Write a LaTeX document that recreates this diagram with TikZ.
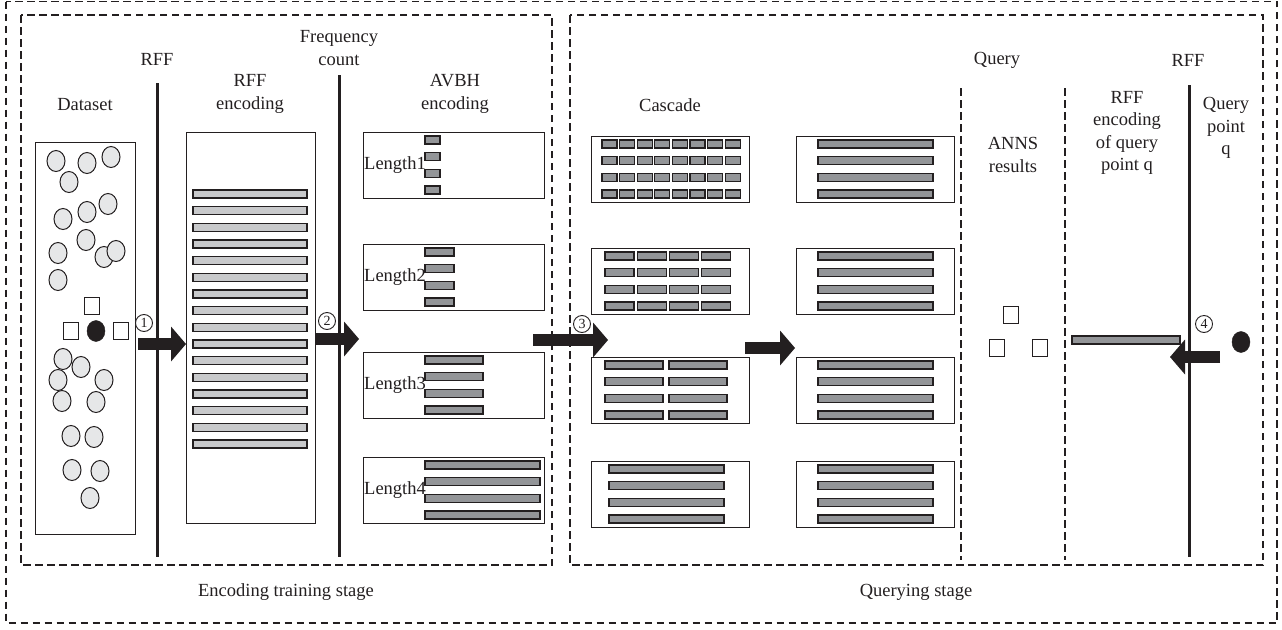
\documentclass[tikz,border=0pt]{standalone}
\usepackage{fontspec}
\setmainfont{Liberation Serif}
\usetikzlibrary{arrows.meta,shapes.geometric}

\definecolor{ink}{HTML}{231F20}
\definecolor{barlight}{HTML}{C8C9CB}
\definecolor{bardark}{HTML}{939598}
\definecolor{dotfill}{HTML}{E6E7E8}

\tikzset{
  stage/.style={draw=ink, line width=1.1pt, dash pattern=on 7.5pt off 4.5pt},
  divider/.style={draw=ink, line width=1.1pt, dash pattern=on 7.5pt off 4.5pt},
  panel/.style={draw=ink, line width=1.4pt, fill=white, inner sep=0pt, anchor=north west},
  lbar/.style={draw=ink, line width=1.3pt, fill=barlight},
  dbar/.style={draw=ink, line width=1.3pt, fill=bardark},
  rffline/.style={draw=ink, line width=3pt},
  blockarrow/.style={draw=ink, line width=12pt,
    -{Triangle[length=15pt,width=35pt,line width=0pt]}},
  lbl/.style={font=\fontsize{18.5}{22.5}\selectfont, align=center, inner sep=0pt, text=ink},
  num/.style={circle, draw=ink, line width=0.9pt, inner sep=0pt, minimum size=17pt,
    font=\fontsize{14}{14}\selectfont, text=ink},
  dot/.style={ellipse, draw=ink, fill=dotfill, line width=1pt, inner sep=0pt,
    minimum width=18pt, minimum height=21pt},
  qdot/.style={ellipse, draw=ink, fill=ink, inner sep=0pt,
    minimum width=18pt, minimum height=21pt},
  sq/.style={rectangle, draw=ink, fill=white, line width=1.2pt, inner sep=0pt,
    minimum width=15pt, minimum height=17pt},
}

% a box whose top-left corner is given: style, x, y, width, height, name
\newcommand\panelat[6]{\node[#1, minimum width=#4pt, minimum height=#5pt] (#6) at (#2,#3) {};}

\begin{document}
\begin{tikzpicture}[x=1pt,y=-1pt]
\useasboundingbox (0,0) rectangle (1282,629);

% stage frames
\draw[stage] (6,1.5) rectangle (1277,623);
\draw[stage] (21,15) rectangle (552,565);
\draw[stage] (570,15) rectangle (1263,565);

% headings
\node[lbl] (hrff1) at (157,59) {RFF};
\node[lbl] (hfreq) at (339,48) {Frequency\\count};
\node[lbl] (hdata) at (85,105) {Dataset};
\node[lbl] (hrffenc) at (250,94) {RFF\\encoding};
\node[lbl] (havbh) at (455,94) {AVBH\\encoding};
\node[lbl] (hcasc) at (670,105) {Cascade};
\node[lbl] (hquery) at (997,60) {Query};
\node[lbl] (hrff2) at (1188,60) {RFF};
\node[lbl] (hanns) at (1013,155) {ANNS\\results};
\node[lbl] (hqenc) at (1127,133) {RFF\\encoding\\of query\\point q};
\node[lbl] (hqpt) at (1226,128) {Query\\point\\q};
\node[lbl] (hstage1) at (286,592) {Encoding training stage};
\node[lbl] (hstage2) at (916,592) {Querying stage};

% dataset
\panelat{panel}{35}{142}{100}{392}{ds}
\foreach \x/\y [count=\i] in {56/161,87/163,111/157,69/182,63/219,87/212,108/204,
    58/253,86/240,104/257,116/251,58/280,63/359,81/367,58/380,104/380,62/401,
    96/402,71/436,94/437,72/470,100/471,90/498}
  {\node[dot] (p\i) at (\x,\y) {};}
\node[sq] (s1) at (92,306) {};
\node[sq] (s2) at (71,331) {};
\node[sq] (s3) at (121,331) {};
\node[qdot] (q0) at (96,331) {};

% RFF encoding of the dataset
\panelat{panel}{186}{132}{129}{391}{rffbox}
\foreach \i in {0,...,15}
  {\draw[lbar] (193,{190+16.67*\i}) rectangle (307,{198+16.67*\i});}

% AVBH encoding: four code lengths
\foreach \k/\t/\w in {1/132/15,2/244/29,3/352/58,4/457/115} {
  \panelat{panel}{363}{\t}{181}{66}{av\k}
  \node[lbl, anchor=west] (len\k) at (364,\t+33) {Length\k};
  \foreach \o in {8,24.7,41.3,58}
    {\draw[dbar] (425,\t+\o-4) rectangle (425+\w,\t+\o+4);}
}

% cascade, first column
\foreach \k/\t in {1/136,2/248,3/357,4/461}
  {\panelat{panel}{591}{\t}{158}{66}{ca\k}}
\foreach \o in {8,24.7,41.3,58} {
  \foreach \j in {0,...,7}
    {\draw[dbar] ({602+17.6*\j},136+\o-4) rectangle ({617+17.6*\j},136+\o+4);}
  \foreach \j in {0,...,3}
    {\draw[dbar] ({605+32.2*\j},248+\o-4) rectangle ({634+32.2*\j},248+\o+4);}
  \foreach \j in {0,1}
    {\draw[dbar] ({605+64*\j},357+\o-4) rectangle ({663+64*\j},357+\o+4);}
  \draw[dbar] (609,461+\o-4) rectangle (724,461+\o+4);
}

% cascade, second column
\foreach \k/\t in {1/136,2/248,3/357,4/461} {
  \panelat{panel}{796}{\t}{158}{66}{cb\k}
  \foreach \o in {8,24.7,41.3,58}
    {\draw[dbar] (818,\t+\o-4) rectangle (933,\t+\o+4);}
}

% query columns
\draw[divider] (961,88) -- (961,560);
\draw[divider] (1065,88) -- (1065,560);
\node[sq] (r1) at (1011,315) {};
\node[sq] (r2) at (997,348) {};
\node[sq] (r3) at (1040,348) {};
\node[dbar, rectangle, inner sep=0pt, minimum width=108pt, minimum height=8pt] (qbar) at (1126,340) {};
\node[qdot] (qpt) at (1241,342) {};

% RFF and frequency-count boundaries
\draw[rffline] (157,83) -- (157,557);
\draw[rffline] (339,75) -- (339,557);
\draw[rffline] (1189,85) -- (1189,557);

% flow arrows
\coordinate (y1) at (0,344);
\coordinate (y2) at (0,339);
\coordinate (a3s) at (533,340);
\coordinate (a3e) at (608,340);
\coordinate (a5s) at (745,348);
\coordinate (a5e) at (795,348);
\coordinate (a4s) at (1220,357);
\coordinate (a4e) at (1170,357);
\draw[blockarrow] ([xshift=2pt]ds.east |- y1) -- (rffbox.west |- y1);
\draw[blockarrow] (rffbox.east |- y2) -- ([xshift=-4pt]av3.west |- y2);
\draw[blockarrow] (a3s) -- (a3e);
\draw[blockarrow] (a5s) -- (a5e);
\draw[blockarrow] (a4s) -- (a4e);

% step numbers
\node[num, fill=white] (n1) at (144,323) {1};
\node[num, fill=white] (n2) at (327,321) {2};
\node[num, fill=white] (n3) at (582,324) {3};
\node[num, fill=white] (n4) at (1204,324) {4};
\end{tikzpicture}
\end{document}
